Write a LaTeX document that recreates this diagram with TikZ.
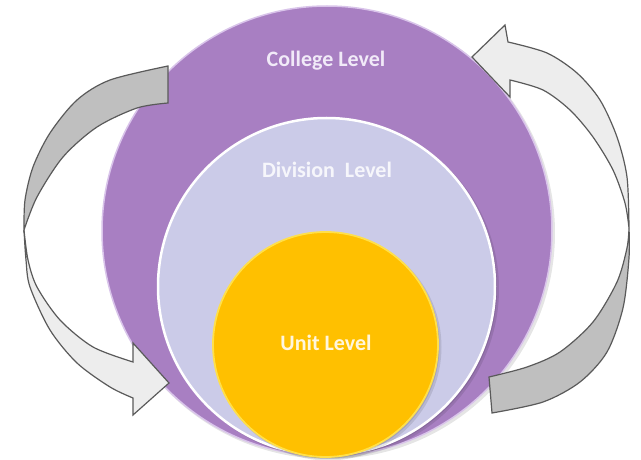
\documentclass[tikz,border=0pt]{standalone}
\usepackage{fontspec}
\setmainfont{Carlito}
\definecolor{collegeC}{HTML}{A87FC2}
\definecolor{collegeRim}{HTML}{D9C4EA}
\definecolor{divisionC}{HTML}{CBCBE8}
\definecolor{unitC}{HTML}{FFC000}
\definecolor{unitRim}{HTML}{FFE04A}
\definecolor{arrowDark}{HTML}{BFBFBF}
\definecolor{arrowLight}{HTML}{EDEDED}
\definecolor{arrowLine}{HTML}{5A5A5A}
\definecolor{txtCollege}{HTML}{F1EAF8}
\definecolor{txtDivision}{HTML}{F6F6FB}
\definecolor{txtUnit}{HTML}{FFF6DE}
\begin{document}
\begin{tikzpicture}[x=1pt,y=-1pt,
  level/.style={circle, inner sep=0pt, minimum size=#1},
  shade/.style={circle, inner sep=0pt, minimum size=#1, fill=black, opacity=0.10},
  lvltext/.style={font=\fontsize{22}{26}\selectfont\bfseries, inner sep=0pt},
  band/.style={draw=arrowLine, line width=1.2pt, line join=miter}]
\useasboundingbox (0,0) rectangle (641,460);
\fill[white] (0,0) rectangle (641,460);

% college level
\node[shade=452] (collegeSh) at (329,233) {};
\node[level=450, fill=collegeC, draw=collegeRim, line width=1.5pt] (college) at (327,231) {};
% division level
\node[shade=339] (divisionSh) at (329.5,289) {};
\node[shade=337] (divisionSh2) at (328.5,288) {};
\node[level=337, fill=divisionC, draw=white, line width=2.5pt] (division) at (326.5,286.5) {};
% unit level
\node[shade=227] (unitSh) at (328,347) {};
\node[shade=225] (unitSh2) at (327,346) {};
\node[level=225, fill=unitC, draw=unitRim, line width=1.8pt] (unit) at (325.5,344.5) {};

\node[lvltext, text=txtCollege] (collegeTxt) at (326,61) {College Level};
\node[lvltext, text=txtDivision] (divisionTxt) at (327,170) {Division~~Level};
\node[lvltext, text=txtUnit] (unitTxt) at (326,343) {Unit Level};

% left curved arrow: back (dark) part
\filldraw[band, fill=arrowDark]
  plot[smooth] coordinates {(168,66) (110,80) (77,100) (50,133) (33,167) (25,200) (24,230)}
  -- plot[smooth] coordinates {(24,230) (37,197) (63,157) (97,127) (137,108) (168,103)}
  -- cycle;
% left curved arrow: front (light) part with head
\filldraw[band, fill=arrowLight]
  plot[smooth] coordinates {(24,230) (26,260) (30,287) (50,330) (77,363) (110,387) (133,398)}
  -- (133,415) -- (169,383) -- (133,343) -- (133,362)
  -- plot[smooth] coordinates {(133,362) (93,347) (60,320) (37,287) (28,260) (24,230)}
  -- cycle;

% right curved arrow: back (dark) part
\filldraw[band, fill=arrowDark]
  plot[smooth] coordinates {(629,228) (629,258) (623,308) (607,352) (580,382) (543,402) (492,413)}
  -- (489,377)
  -- plot[smooth] coordinates {(489,377) (527,367) (560,352) (593,322) (617,282) (627,248) (629,228)}
  -- cycle;
% right curved arrow: front (light) part with head
\filldraw[band, fill=arrowLight]
  plot[smooth] coordinates {(629,228) (627,177) (617,137) (600,100) (577,73) (547,53) (508,42)}
  -- (505,25) -- (472,57) -- (510,97) -- (510,80)
  -- plot[smooth] coordinates {(510,80) (543,90) (570,110) (593,137) (613,170) (625,203) (629,228)}
  -- cycle;
\end{tikzpicture}
\end{document}
